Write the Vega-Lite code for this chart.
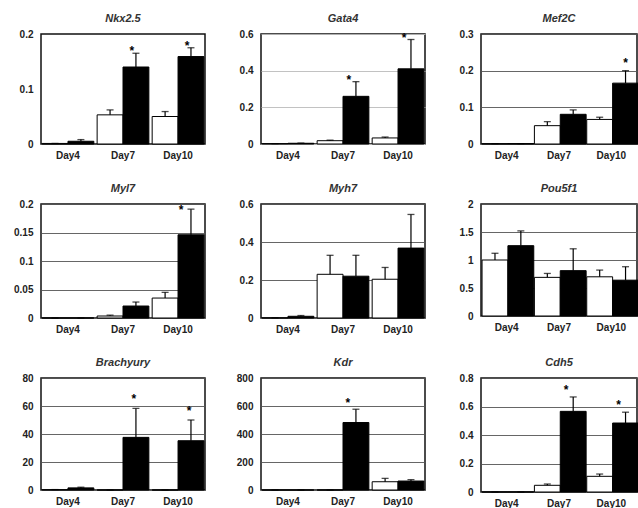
{
  "$schema": "https://vega.github.io/schema/vega-lite/v6.json",
  "background": "white",
  "padding": {"left": 10, "top": 12, "right": 0, "bottom": 0},
  "datasets": {
    "d": [
      {"gene": "Nkx2.5", "day": "Day4", "grp": "W", "mean": 0.001, "hi": 0.001, "sig": 0},
      {"gene": "Nkx2.5", "day": "Day4", "grp": "B", "mean": 0.005, "hi": 0.008, "sig": 0},
      {"gene": "Nkx2.5", "day": "Day7", "grp": "W", "mean": 0.053, "hi": 0.062, "sig": 0},
      {"gene": "Nkx2.5", "day": "Day7", "grp": "B", "mean": 0.14, "hi": 0.165, "sig": 1},
      {"gene": "Nkx2.5", "day": "Day10", "grp": "W", "mean": 0.05, "hi": 0.059, "sig": 0},
      {"gene": "Nkx2.5", "day": "Day10", "grp": "B", "mean": 0.159, "hi": 0.175, "sig": 1},

      {"gene": "Gata4", "day": "Day4", "grp": "W", "mean": 0.002, "hi": 0.002, "sig": 0},
      {"gene": "Gata4", "day": "Day4", "grp": "B", "mean": 0.004, "hi": 0.005, "sig": 0},
      {"gene": "Gata4", "day": "Day7", "grp": "W", "mean": 0.018, "hi": 0.021, "sig": 0},
      {"gene": "Gata4", "day": "Day7", "grp": "B", "mean": 0.26, "hi": 0.34, "sig": 1},
      {"gene": "Gata4", "day": "Day10", "grp": "W", "mean": 0.033, "hi": 0.038, "sig": 0},
      {"gene": "Gata4", "day": "Day10", "grp": "B", "mean": 0.41, "hi": 0.57, "sig": 1},

      {"gene": "Mef2C", "day": "Day4", "grp": "W", "mean": 0.001, "hi": 0.001, "sig": 0},
      {"gene": "Mef2C", "day": "Day4", "grp": "B", "mean": 0.001, "hi": 0.001, "sig": 0},
      {"gene": "Mef2C", "day": "Day7", "grp": "W", "mean": 0.05, "hi": 0.061, "sig": 0},
      {"gene": "Mef2C", "day": "Day7", "grp": "B", "mean": 0.081, "hi": 0.093, "sig": 0},
      {"gene": "Mef2C", "day": "Day10", "grp": "W", "mean": 0.067, "hi": 0.073, "sig": 0},
      {"gene": "Mef2C", "day": "Day10", "grp": "B", "mean": 0.166, "hi": 0.2, "sig": 1},

      {"gene": "Myl7", "day": "Day4", "grp": "W", "mean": 0, "hi": 0, "sig": 0},
      {"gene": "Myl7", "day": "Day4", "grp": "B", "mean": 0, "hi": 0, "sig": 0},
      {"gene": "Myl7", "day": "Day7", "grp": "W", "mean": 0.0035, "hi": 0.005, "sig": 0},
      {"gene": "Myl7", "day": "Day7", "grp": "B", "mean": 0.021, "hi": 0.028, "sig": 0},
      {"gene": "Myl7", "day": "Day10", "grp": "W", "mean": 0.035, "hi": 0.045, "sig": 0},
      {"gene": "Myl7", "day": "Day10", "grp": "B", "mean": 0.146, "hi": 0.191, "sig": 1},

      {"gene": "Myh7", "day": "Day4", "grp": "W", "mean": 0.001, "hi": 0.001, "sig": 0},
      {"gene": "Myh7", "day": "Day4", "grp": "B", "mean": 0.009, "hi": 0.013, "sig": 0},
      {"gene": "Myh7", "day": "Day7", "grp": "W", "mean": 0.23, "hi": 0.33, "sig": 0},
      {"gene": "Myh7", "day": "Day7", "grp": "B", "mean": 0.22, "hi": 0.33, "sig": 0},
      {"gene": "Myh7", "day": "Day10", "grp": "W", "mean": 0.204, "hi": 0.266, "sig": 0},
      {"gene": "Myh7", "day": "Day10", "grp": "B", "mean": 0.368, "hi": 0.545, "sig": 0},

      {"gene": "Pou5f1", "day": "Day4", "grp": "W", "mean": 1.0, "hi": 1.12, "sig": 0},
      {"gene": "Pou5f1", "day": "Day4", "grp": "B", "mean": 1.256, "hi": 1.52, "sig": 0},
      {"gene": "Pou5f1", "day": "Day7", "grp": "W", "mean": 0.69, "hi": 0.76, "sig": 0},
      {"gene": "Pou5f1", "day": "Day7", "grp": "B", "mean": 0.81, "hi": 1.2, "sig": 0},
      {"gene": "Pou5f1", "day": "Day10", "grp": "W", "mean": 0.7, "hi": 0.82, "sig": 0},
      {"gene": "Pou5f1", "day": "Day10", "grp": "B", "mean": 0.64, "hi": 0.88, "sig": 0},

      {"gene": "Brachyury", "day": "Day4", "grp": "W", "mean": 0.3, "hi": 0.3, "sig": 0},
      {"gene": "Brachyury", "day": "Day4", "grp": "B", "mean": 1.5, "hi": 2.0, "sig": 0},
      {"gene": "Brachyury", "day": "Day7", "grp": "W", "mean": 0, "hi": 0, "sig": 0},
      {"gene": "Brachyury", "day": "Day7", "grp": "B", "mean": 37.6, "hi": 58.3, "sig": 1},
      {"gene": "Brachyury", "day": "Day10", "grp": "W", "mean": 0, "hi": 0, "sig": 0},
      {"gene": "Brachyury", "day": "Day10", "grp": "B", "mean": 35.2, "hi": 50, "sig": 1},

      {"gene": "Kdr", "day": "Day4", "grp": "W", "mean": 0, "hi": 0, "sig": 0},
      {"gene": "Kdr", "day": "Day4", "grp": "B", "mean": 0, "hi": 0, "sig": 0},
      {"gene": "Kdr", "day": "Day7", "grp": "W", "mean": 0, "hi": 0, "sig": 0},
      {"gene": "Kdr", "day": "Day7", "grp": "B", "mean": 482, "hi": 577, "sig": 1},
      {"gene": "Kdr", "day": "Day10", "grp": "W", "mean": 59, "hi": 83, "sig": 0},
      {"gene": "Kdr", "day": "Day10", "grp": "B", "mean": 64, "hi": 74, "sig": 0},

      {"gene": "Cdh5", "day": "Day4", "grp": "W", "mean": 0, "hi": 0, "sig": 0},
      {"gene": "Cdh5", "day": "Day4", "grp": "B", "mean": 0, "hi": 0, "sig": 0},
      {"gene": "Cdh5", "day": "Day7", "grp": "W", "mean": 0.047, "hi": 0.056, "sig": 0},
      {"gene": "Cdh5", "day": "Day7", "grp": "B", "mean": 0.566, "hi": 0.667, "sig": 1},
      {"gene": "Cdh5", "day": "Day10", "grp": "W", "mean": 0.11, "hi": 0.126, "sig": 0},
      {"gene": "Cdh5", "day": "Day10", "grp": "B", "mean": 0.484, "hi": 0.56, "sig": 1}
    ]
  },
  "columns": 3,
  "spacing": {"column": 24, "row": 21},
  "concat": [
    {"title": "Nkx2.5", "width": 164, "height": 110, "data": {"name": "d"}, "transform": [{"filter": "datum.gene == 'Nkx2.5'"}],
     "encoding": {"x": {"field": "day", "type": "nominal", "sort": ["Day4", "Day7", "Day10"], "title": null, "axis": {"labelAngle": 0}, "scale": {"paddingInner": 0.06, "paddingOuter": 0.02}}, "xOffset": {"field": "grp", "type": "nominal", "sort": ["W", "B"]}},
     "layer": [
      {"mark": {"type": "bar", "stroke": "black", "strokeWidth": 1}, "encoding": {"y": {"field": "mean", "type": "quantitative", "title": null, "scale": {"domain": [0, 0.2]}, "axis": {"values": [0, 0.1, 0.2], "gridOpacity": 0}}, "fill": {"field": "grp", "type": "nominal", "scale": {"domain": ["W", "B"], "range": ["white", "black"]}, "legend": null}}},
      {"mark": {"type": "rule", "color": "black", "strokeWidth": 1.2}, "encoding": {"y": {"field": "mean", "type": "quantitative", "title": null, "axis": {"values": [0, 0.1, 0.2], "gridOpacity": 0}}, "y2": {"field": "hi"}}},
      {"mark": {"type": "tick", "color": "black", "thickness": 1.3, "size": 7}, "encoding": {"y": {"field": "hi", "type": "quantitative", "title": null, "axis": {"values": [0, 0.1, 0.2], "gridOpacity": 0}}}},
      {"transform": [{"filter": "datum.sig == 1"}], "mark": {"type": "text", "text": "*", "fontSize": 12, "fontWeight": "bold", "baseline": "bottom", "dx": -4, "dy": 5}, "encoding": {"y": {"field": "hi", "type": "quantitative", "title": null, "axis": {"values": [0, 0.1, 0.2], "gridOpacity": 0}}}}
     ]},
    {"title": "Gata4", "width": 164, "height": 110, "data": {"name": "d"}, "transform": [{"filter": "datum.gene == 'Gata4'"}],
     "encoding": {"x": {"field": "day", "type": "nominal", "sort": ["Day4", "Day7", "Day10"], "title": null, "axis": {"labelAngle": 0}, "scale": {"paddingInner": 0.06, "paddingOuter": 0.02}}, "xOffset": {"field": "grp", "type": "nominal", "sort": ["W", "B"]}},
     "layer": [
      {"mark": {"type": "bar", "stroke": "black", "strokeWidth": 1}, "encoding": {"y": {"field": "mean", "type": "quantitative", "title": null, "scale": {"domain": [0, 0.6]}, "axis": {"values": [0, 0.2, 0.4, 0.6], "gridColor": "#bbb"}}, "fill": {"field": "grp", "type": "nominal", "scale": {"domain": ["W", "B"], "range": ["white", "black"]}, "legend": null}}},
      {"mark": {"type": "rule", "color": "black", "strokeWidth": 1.2}, "encoding": {"y": {"field": "mean", "type": "quantitative", "title": null, "axis": {"values": [0, 0.2, 0.4, 0.6], "gridColor": "#bbb"}}, "y2": {"field": "hi"}}},
      {"mark": {"type": "tick", "color": "black", "thickness": 1.3, "size": 7}, "encoding": {"y": {"field": "hi", "type": "quantitative", "title": null, "axis": {"values": [0, 0.2, 0.4, 0.6], "gridColor": "#bbb"}}}},
      {"transform": [{"filter": "datum.sig == 1"}], "mark": {"type": "text", "text": "*", "fontSize": 12, "fontWeight": "bold", "baseline": "bottom", "dx": -7, "dy": 5}, "encoding": {"y": {"field": "hi", "type": "quantitative", "title": null, "axis": {"values": [0, 0.2, 0.4, 0.6], "gridColor": "#bbb"}}}}
     ]},
    {"title": "Mef2C", "width": 156, "height": 110, "data": {"name": "d"}, "transform": [{"filter": "datum.gene == 'Mef2C'"}],
     "encoding": {"x": {"field": "day", "type": "nominal", "sort": ["Day4", "Day7", "Day10"], "title": null, "axis": {"labelAngle": 0}, "scale": {"paddingInner": 0.06, "paddingOuter": 0.02}}, "xOffset": {"field": "grp", "type": "nominal", "sort": ["W", "B"]}},
     "layer": [
      {"mark": {"type": "bar", "stroke": "black", "strokeWidth": 1}, "encoding": {"y": {"field": "mean", "type": "quantitative", "title": null, "scale": {"domain": [0, 0.3]}, "axis": {"values": [0, 0.1, 0.2, 0.3]}}, "fill": {"field": "grp", "type": "nominal", "scale": {"domain": ["W", "B"], "range": ["white", "black"]}, "legend": null}}},
      {"mark": {"type": "rule", "color": "black", "strokeWidth": 1.2}, "encoding": {"y": {"field": "mean", "type": "quantitative", "title": null, "axis": {"values": [0, 0.1, 0.2, 0.3]}}, "y2": {"field": "hi"}}},
      {"mark": {"type": "tick", "color": "black", "thickness": 1.3, "size": 7}, "encoding": {"y": {"field": "hi", "type": "quantitative", "title": null, "axis": {"values": [0, 0.1, 0.2, 0.3]}}}},
      {"transform": [{"filter": "datum.sig == 1"}], "mark": {"type": "text", "text": "*", "fontSize": 12, "fontWeight": "bold", "baseline": "bottom", "dx": 0, "dy": -1}, "encoding": {"y": {"field": "hi", "type": "quantitative", "title": null, "axis": {"values": [0, 0.1, 0.2, 0.3]}}}}
     ]},
    {"title": "Myl7", "width": 164, "height": 114, "data": {"name": "d"}, "transform": [{"filter": "datum.gene == 'Myl7'"}],
     "encoding": {"x": {"field": "day", "type": "nominal", "sort": ["Day4", "Day7", "Day10"], "title": null, "axis": {"labelAngle": 0}, "scale": {"paddingInner": 0.06, "paddingOuter": 0.02}}, "xOffset": {"field": "grp", "type": "nominal", "sort": ["W", "B"]}},
     "layer": [
      {"mark": {"type": "bar", "stroke": "black", "strokeWidth": 1}, "encoding": {"y": {"field": "mean", "type": "quantitative", "title": null, "scale": {"domain": [0, 0.2]}, "axis": {"values": [0, 0.05, 0.1, 0.15, 0.2]}}, "fill": {"field": "grp", "type": "nominal", "scale": {"domain": ["W", "B"], "range": ["white", "black"]}, "legend": null}}},
      {"mark": {"type": "rule", "color": "black", "strokeWidth": 1.2}, "encoding": {"y": {"field": "mean", "type": "quantitative", "title": null, "axis": {"values": [0, 0.05, 0.1, 0.15, 0.2]}}, "y2": {"field": "hi"}}},
      {"mark": {"type": "tick", "color": "black", "thickness": 1.3, "size": 7}, "encoding": {"y": {"field": "hi", "type": "quantitative", "title": null, "axis": {"values": [0, 0.05, 0.1, 0.15, 0.2]}}}},
      {"transform": [{"filter": "datum.sig == 1"}], "mark": {"type": "text", "text": "*", "fontSize": 12, "fontWeight": "bold", "baseline": "bottom", "dx": -10, "dy": 8}, "encoding": {"y": {"field": "hi", "type": "quantitative", "title": null, "axis": {"values": [0, 0.05, 0.1, 0.15, 0.2]}}}}
     ]},
    {"title": "Myh7", "width": 164, "height": 114, "data": {"name": "d"}, "transform": [{"filter": "datum.gene == 'Myh7'"}],
     "encoding": {"x": {"field": "day", "type": "nominal", "sort": ["Day4", "Day7", "Day10"], "title": null, "axis": {"labelAngle": 0}, "scale": {"paddingInner": 0.06, "paddingOuter": 0.02}}, "xOffset": {"field": "grp", "type": "nominal", "sort": ["W", "B"]}},
     "layer": [
      {"mark": {"type": "bar", "stroke": "black", "strokeWidth": 1}, "encoding": {"y": {"field": "mean", "type": "quantitative", "title": null, "scale": {"domain": [0, 0.6]}, "axis": {"values": [0, 0.2, 0.4, 0.6]}}, "fill": {"field": "grp", "type": "nominal", "scale": {"domain": ["W", "B"], "range": ["white", "black"]}, "legend": null}}},
      {"mark": {"type": "rule", "color": "black", "strokeWidth": 1.2}, "encoding": {"y": {"field": "mean", "type": "quantitative", "title": null, "axis": {"values": [0, 0.2, 0.4, 0.6]}}, "y2": {"field": "hi"}}},
      {"mark": {"type": "tick", "color": "black", "thickness": 1.3, "size": 7}, "encoding": {"y": {"field": "hi", "type": "quantitative", "title": null, "axis": {"values": [0, 0.2, 0.4, 0.6]}}}}
     ]},
    {"title": "Pou5f1", "width": 156, "height": 112, "data": {"name": "d"}, "transform": [{"filter": "datum.gene == 'Pou5f1'"}],
     "encoding": {"x": {"field": "day", "type": "nominal", "sort": ["Day4", "Day7", "Day10"], "title": null, "axis": {"labelAngle": 0}, "scale": {"paddingInner": 0.06, "paddingOuter": 0.02}}, "xOffset": {"field": "grp", "type": "nominal", "sort": ["W", "B"]}},
     "layer": [
      {"mark": {"type": "bar", "stroke": "black", "strokeWidth": 1}, "encoding": {"y": {"field": "mean", "type": "quantitative", "title": null, "scale": {"domain": [0, 2]}, "axis": {"values": [0, 0.5, 1, 1.5, 2]}}, "fill": {"field": "grp", "type": "nominal", "scale": {"domain": ["W", "B"], "range": ["white", "black"]}, "legend": null}}},
      {"mark": {"type": "rule", "color": "black", "strokeWidth": 1.2}, "encoding": {"y": {"field": "mean", "type": "quantitative", "title": null, "axis": {"values": [0, 0.5, 1, 1.5, 2]}}, "y2": {"field": "hi"}}},
      {"mark": {"type": "tick", "color": "black", "thickness": 1.3, "size": 7}, "encoding": {"y": {"field": "hi", "type": "quantitative", "title": null, "axis": {"values": [0, 0.5, 1, 1.5, 2]}}}}
     ]},
    {"title": "Brachyury", "width": 164, "height": 112, "data": {"name": "d"}, "transform": [{"filter": "datum.gene == 'Brachyury'"}],
     "encoding": {"x": {"field": "day", "type": "nominal", "sort": ["Day4", "Day7", "Day10"], "title": null, "axis": {"labelAngle": 0}, "scale": {"paddingInner": 0.06, "paddingOuter": 0.02}}, "xOffset": {"field": "grp", "type": "nominal", "sort": ["W", "B"]}},
     "layer": [
      {"mark": {"type": "bar", "stroke": "black", "strokeWidth": 1}, "encoding": {"y": {"field": "mean", "type": "quantitative", "title": null, "scale": {"domain": [0, 80]}, "axis": {"values": [0, 20, 40, 60, 80]}}, "fill": {"field": "grp", "type": "nominal", "scale": {"domain": ["W", "B"], "range": ["white", "black"]}, "legend": null}}},
      {"mark": {"type": "rule", "color": "black", "strokeWidth": 1.2}, "encoding": {"y": {"field": "mean", "type": "quantitative", "title": null, "axis": {"values": [0, 20, 40, 60, 80]}}, "y2": {"field": "hi"}}},
      {"mark": {"type": "tick", "color": "black", "thickness": 1.3, "size": 7}, "encoding": {"y": {"field": "hi", "type": "quantitative", "title": null, "axis": {"values": [0, 20, 40, 60, 80]}}}},
      {"transform": [{"filter": "datum.sig == 1"}], "mark": {"type": "text", "text": "*", "fontSize": 12, "fontWeight": "bold", "baseline": "bottom", "dx": -2, "dy": -2}, "encoding": {"y": {"field": "hi", "type": "quantitative", "title": null, "axis": {"values": [0, 20, 40, 60, 80]}}}}
     ]},
    {"title": "Kdr", "width": 164, "height": 112, "data": {"name": "d"}, "transform": [{"filter": "datum.gene == 'Kdr'"}],
     "encoding": {"x": {"field": "day", "type": "nominal", "sort": ["Day4", "Day7", "Day10"], "title": null, "axis": {"labelAngle": 0}, "scale": {"paddingInner": 0.06, "paddingOuter": 0.02}}, "xOffset": {"field": "grp", "type": "nominal", "sort": ["W", "B"]}},
     "layer": [
      {"mark": {"type": "bar", "stroke": "black", "strokeWidth": 1}, "encoding": {"y": {"field": "mean", "type": "quantitative", "title": null, "scale": {"domain": [0, 800]}, "axis": {"values": [0, 200, 400, 600, 800]}}, "fill": {"field": "grp", "type": "nominal", "scale": {"domain": ["W", "B"], "range": ["white", "black"]}, "legend": null}}},
      {"mark": {"type": "rule", "color": "black", "strokeWidth": 1.2}, "encoding": {"y": {"field": "mean", "type": "quantitative", "title": null, "axis": {"values": [0, 200, 400, 600, 800]}}, "y2": {"field": "hi"}}},
      {"mark": {"type": "tick", "color": "black", "thickness": 1.3, "size": 7}, "encoding": {"y": {"field": "hi", "type": "quantitative", "title": null, "axis": {"values": [0, 200, 400, 600, 800]}}}},
      {"transform": [{"filter": "datum.sig == 1"}], "mark": {"type": "text", "text": "*", "fontSize": 12, "fontWeight": "bold", "baseline": "bottom", "dx": -8, "dy": 1}, "encoding": {"y": {"field": "hi", "type": "quantitative", "title": null, "axis": {"values": [0, 200, 400, 600, 800]}}}}
     ]},
    {"title": "Cdh5", "width": 156, "height": 114, "data": {"name": "d"}, "transform": [{"filter": "datum.gene == 'Cdh5'"}],
     "encoding": {"x": {"field": "day", "type": "nominal", "sort": ["Day4", "Day7", "Day10"], "title": null, "axis": {"labelAngle": 0}, "scale": {"paddingInner": 0.06, "paddingOuter": 0.02}}, "xOffset": {"field": "grp", "type": "nominal", "sort": ["W", "B"]}},
     "layer": [
      {"mark": {"type": "bar", "stroke": "black", "strokeWidth": 1}, "encoding": {"y": {"field": "mean", "type": "quantitative", "title": null, "scale": {"domain": [0, 0.8]}, "axis": {"values": [0, 0.2, 0.4, 0.6, 0.8]}}, "fill": {"field": "grp", "type": "nominal", "scale": {"domain": ["W", "B"], "range": ["white", "black"]}, "legend": null}}},
      {"mark": {"type": "rule", "color": "black", "strokeWidth": 1.2}, "encoding": {"y": {"field": "mean", "type": "quantitative", "title": null, "axis": {"values": [0, 0.2, 0.4, 0.6, 0.8]}}, "y2": {"field": "hi"}}},
      {"mark": {"type": "tick", "color": "black", "thickness": 1.3, "size": 7}, "encoding": {"y": {"field": "hi", "type": "quantitative", "title": null, "axis": {"values": [0, 0.2, 0.4, 0.6, 0.8]}}}},
      {"transform": [{"filter": "datum.sig == 1"}], "mark": {"type": "text", "text": "*", "fontSize": 12, "fontWeight": "bold", "baseline": "bottom", "dx": -7, "dy": 0}, "encoding": {"y": {"field": "hi", "type": "quantitative", "title": null, "axis": {"values": [0, 0.2, 0.4, 0.6, 0.8]}}}}
     ]}
  ],
  "config": {
    "view": {"stroke": "#111", "strokeWidth": 1.5},
    "axis": {"labelFont": "Liberation Sans", "labelFontWeight": "bold", "labelFontSize": 10, "labelColor": "#222", "ticks": false, "domain": false},
    "axisX": {"labelPadding": 6},
    "axisY": {"labelPadding": 8, "gridColor": "#555", "gridWidth": 0.9, "gridOpacity": 1, "format": "~r", "labelOverlap": false, "minExtent": 30},
    "title": {"font": "Liberation Sans", "fontStyle": "italic", "fontWeight": "bold", "fontSize": 11, "color": "#333", "offset": 5}
  }
}
